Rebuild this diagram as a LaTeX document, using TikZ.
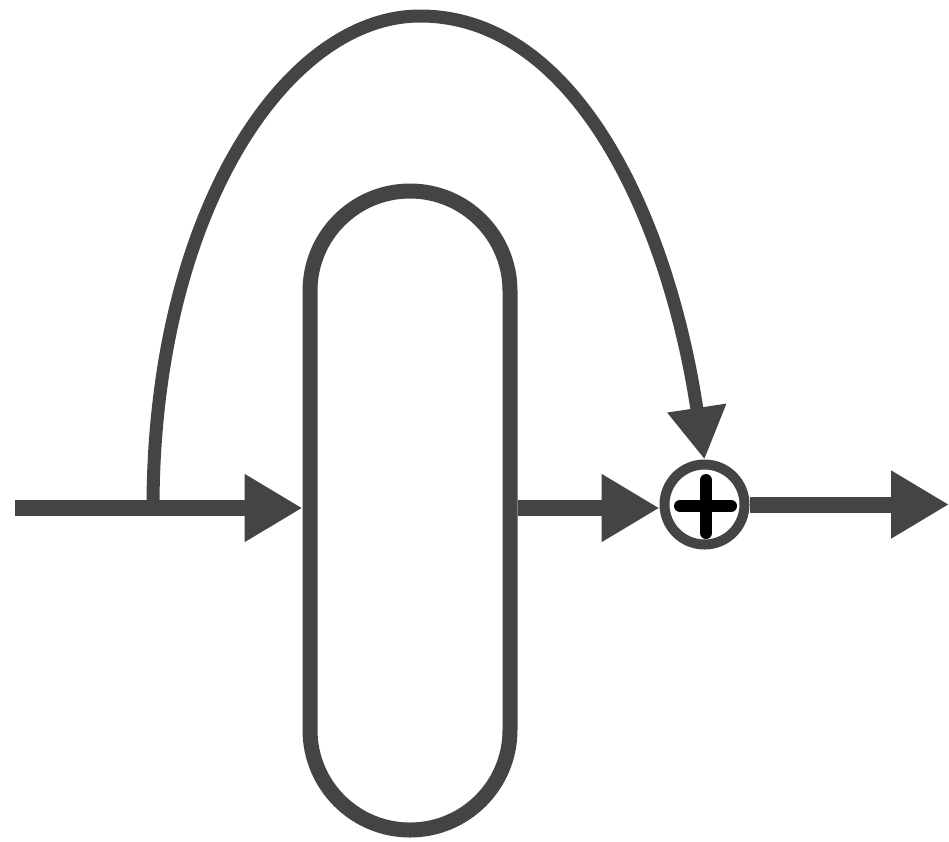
\documentclass[tikz,border=0pt]{standalone}
\usepackage{tikz}
\usetikzlibrary{arrows.meta, positioning}
\definecolor{DarkGray}{HTML}{444444}

\begin{document}
\begin{tikzpicture}[x=1pt, y=-1pt,
        flow/.style={DarkGray, line width=16pt, -{Triangle[length=58pt, width=64pt]}},
        skip/.style={DarkGray, line width=13pt, -{Triangle[length=52pt, width=56pt]}},
        plus/.style={black, line width=12pt, line cap=round}]
        \useasboundingbox (0,0) rectangle (949,841);
        \node[draw=DarkGray, line width=15pt, rounded corners=100pt, minimum width=200pt, minimum height=639pt, inner sep=0pt] (block) at (410,510.5) {};
        \node[draw=DarkGray, line width=10pt, circle, minimum size=80pt, inner sep=0pt, fill=white] (sum) at (704.5,504.5) {};
        \coordinate (in) at (15,508);
        \coordinate (split) at (153,508);
        \coordinate (top) at (420,16);
        \coordinate (out) at (949,504.5);
        \draw[flow] (in) -- (in -| block.west);
        \draw[flow] (block.east |- in) -- (sum.west |- in);
        \draw[flow] (sum.east) -- (out);
        \draw[skip] (split) .. controls (153,215) and (285,16) .. (top) .. controls (575,16) and (668,217) .. (sum.north);
        \draw[plus] ([shift={(-24.5,1.5)}]sum.center) -- ([shift={(26.5,1.5)}]sum.center);
        \draw[plus] ([shift={(1.5,-24.5)}]sum.center) -- ([shift={(1.5,28.5)}]sum.center);
      \end{tikzpicture}
\end{document}
